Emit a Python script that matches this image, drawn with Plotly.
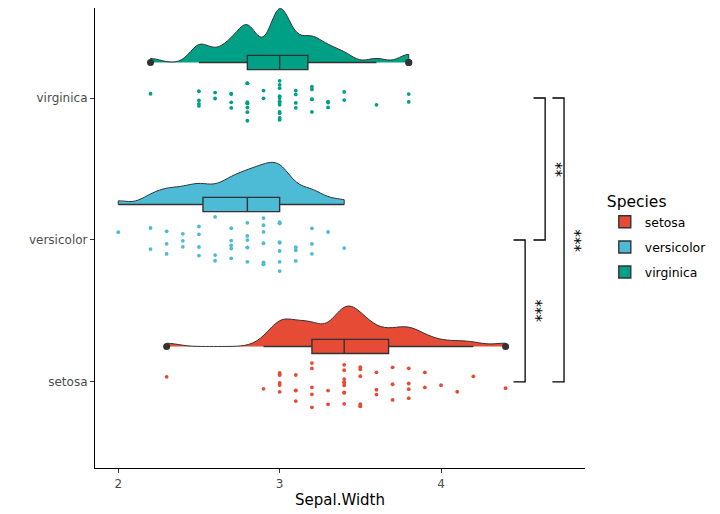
import numpy as np
import plotly.graph_objects as go

# ---------------- data ----------------
species = ["setosa", "versicolor", "virginica"]
colors = ["#E64B35", "#4DBBD5", "#00A087"]

setosa = [3.5, 3.0, 3.2, 3.1, 3.6, 3.9, 3.4, 3.4, 2.9, 3.1, 3.7, 3.4, 3.0, 3.0, 4.0,
          4.4, 3.9, 3.5, 3.8, 3.8, 3.4, 3.7, 3.6, 3.3, 3.4, 3.0, 3.4, 3.5, 3.4, 3.2,
          3.1, 3.4, 4.1, 4.2, 3.1, 3.2, 3.5, 3.6, 3.0, 3.4, 3.5, 2.3, 3.2, 3.5, 3.8,
          3.0, 3.8, 3.2, 3.7, 3.3]
versicolor = [3.2, 3.2, 3.1, 2.3, 2.8, 2.8, 3.3, 2.4, 2.9, 2.7, 2.0, 3.0, 2.2, 2.9, 2.9,
              3.1, 3.0, 2.7, 2.2, 2.5, 3.2, 2.8, 2.5, 2.8, 2.9, 3.0, 2.8, 3.0, 2.9, 2.6,
              2.4, 2.4, 2.7, 2.7, 3.0, 3.4, 3.1, 2.3, 3.0, 2.5, 2.6, 3.0, 2.6, 2.3, 2.7,
              3.0, 2.9, 2.9, 2.5, 2.8]
virginica = [3.3, 2.7, 3.0, 2.9, 3.0, 3.0, 2.5, 2.9, 2.5, 3.6, 3.2, 2.7, 3.0, 2.5, 2.8,
             3.2, 3.0, 3.8, 2.6, 2.2, 3.2, 2.8, 2.8, 2.7, 3.3, 3.2, 2.8, 3.0, 2.8, 3.0,
             2.8, 3.8, 2.8, 2.8, 2.6, 3.0, 3.4, 3.1, 3.0, 3.1, 3.1, 3.1, 2.7, 3.2, 3.3,
             3.0, 2.5, 3.0, 3.4, 3.0]
values = [setosa, versicolor, virginica]

comparisons = [("setosa", "versicolor"), ("versicolor", "virginica"), ("setosa", "virginica")]
sig_labels = ["***", "**", "***"]
x_ticks = [2, 3, 4]

# ---------------- layout constants ----------------
NUDGE = 0.25          # violin/box offset above category
VIOLIN_H = 0.38       # tallest half-violin height (data units)
BW_ADJUST = 0.5
BOX_W = 0.10
JITTER_W = 0.52
bracket_x = [4.521, 4.645, 4.762]
bracket_tick = 0.072
label_dx = 0.105
FONT = "DejaVu Sans"


def nrd0(v):
    v = np.asarray(v, float)
    sd = v.std(ddof=1)
    q1, q3 = np.percentile(v, [25, 75])
    return 0.9 * min(sd, (q3 - q1) / 1.34) * len(v) ** -0.2


def kde_peak(v, bw):
    v = np.asarray(v, float)
    grid = np.linspace(v.min(), v.max(), 512)
    d = np.exp(-0.5 * ((grid[:, None] - v[None, :]) / bw) ** 2).sum(1)
    return (d / (len(v) * bw * np.sqrt(2 * np.pi))).max()


def box_stats(v):
    v = np.asarray(v, float)
    q1, med, q3 = np.percentile(v, [25, 50, 75])
    iqr = q3 - q1
    inside = v[(v >= q1 - 1.5 * iqr) & (v <= q3 + 1.5 * iqr)]
    out = v[(v < q1 - 1.5 * iqr) | (v > q3 + 1.5 * iqr)]
    return q1, med, q3, inside.min(), inside.max(), out


bws = [nrd0(v) * BW_ADJUST for v in values]
peaks = [kde_peak(v, b) for v, b in zip(values, bws)]
pmax = max(peaks)

fig = go.Figure()
pos = {sp: i + 1 for i, sp in enumerate(species)}

for i, sp in enumerate(species):
    fig.add_trace(go.Violin(
        x=values[i], y0=pos[sp] + NUDGE, orientation="h", side="positive",
        width=2 * VIOLIN_H * peaks[i] / pmax, bandwidth=bws[i], spanmode="hard",
        scalemode="width", scalegroup=sp, fillcolor=colors[i], opacity=1,
        line=dict(color="#333333", width=1), points=False, legendgroup=sp,
        box_visible=False, meanline_visible=False, showlegend=False,
        hoverinfo="skip"))

for i, sp in enumerate(species):
    fig.add_trace(go.Box(
        x=values[i], y0=pos[sp], orientation="h", width=JITTER_W,
        boxpoints="all", jitter=1, pointpos=0, legendgroup=sp,
        fillcolor="rgba(0,0,0,0)", line=dict(width=0, color="rgba(0,0,0,0)"),
        marker=dict(color=colors[i], size=3.8), showlegend=False, hoverinfo="x"))

for i, sp in enumerate(species):
    q1, med, q3, lo, hi, out = box_stats(values[i])
    fig.add_trace(go.Box(
        y=[pos[sp] + NUDGE], q1=[q1], median=[med], q3=[q3],
        lowerfence=[lo], upperfence=[hi], orientation="h", width=BOX_W,
        whiskerwidth=0, fillcolor=colors[i], line=dict(color="#333333", width=1.4),
        name=sp, legendgroup=sp, showlegend=True))
    fig.add_trace(go.Scatter(
        x=out, y=[pos[sp] + NUDGE] * len(out), mode="markers",
        marker=dict(color="#333333", size=7), legendgroup=sp,
        showlegend=False, hoverinfo="x"))

shapes = []
annotations = []
for (g1, g2), lab, bx in zip(comparisons, sig_labels, bracket_x):
    y1, y2 = pos[g1], pos[g2]
    shapes.append(dict(
        type="path", xref="x", yref="y",
        path=f"M {bx - bracket_tick},{y1} L {bx},{y1} L {bx},{y2} L {bx - bracket_tick},{y2}",
        line=dict(color="black", width=1.3)))
    annotations.append(dict(
        x=bx + label_dx, y=(y1 + y2) / 2, xref="x", yref="y", text=lab,
        showarrow=False, textangle=-90, font=dict(family=FONT, size=15, color="black")))

axis_common = dict(showline=True, linecolor="black", linewidth=1.2, ticks="outside",
                   ticklen=4, tickcolor="#333333", tickwidth=1.1, showgrid=False,
                   zeroline=False, tickfont=dict(family=FONT, size=12, color="#4d4d4d"))

fig.update_layout(
    width=720, height=514,
    margin=dict(l=95, r=135, t=8, b=46),
    paper_bgcolor="white", plot_bgcolor="white",
    font=dict(family=FONT),
    boxmode="overlay", violinmode="overlay",
    xaxis=dict(range=[1.856, 4.892], tickvals=x_ticks,
               title=dict(text="Sepal.Width", font=dict(family=FONT, size=15, color="black"),
                          standoff=4),
               **axis_common),
    yaxis=dict(type="linear", range=[0.394, 3.634], tickvals=[1, 2, 3], ticktext=species,
               **axis_common),
    legend=dict(xref="container", yref="container", x=0.840, y=0.636,
                xanchor="left", yanchor="top",
                title=dict(text="Species", font=dict(family=FONT, size=15.5, color="black")),
                font=dict(family=FONT, size=12.4, color="black"), tracegroupgap=6),
    shapes=shapes, annotations=annotations,
)

fig.write_html("out.html", config={"displayModeBar": False},
               post_script="document.body.style.margin='0';")
